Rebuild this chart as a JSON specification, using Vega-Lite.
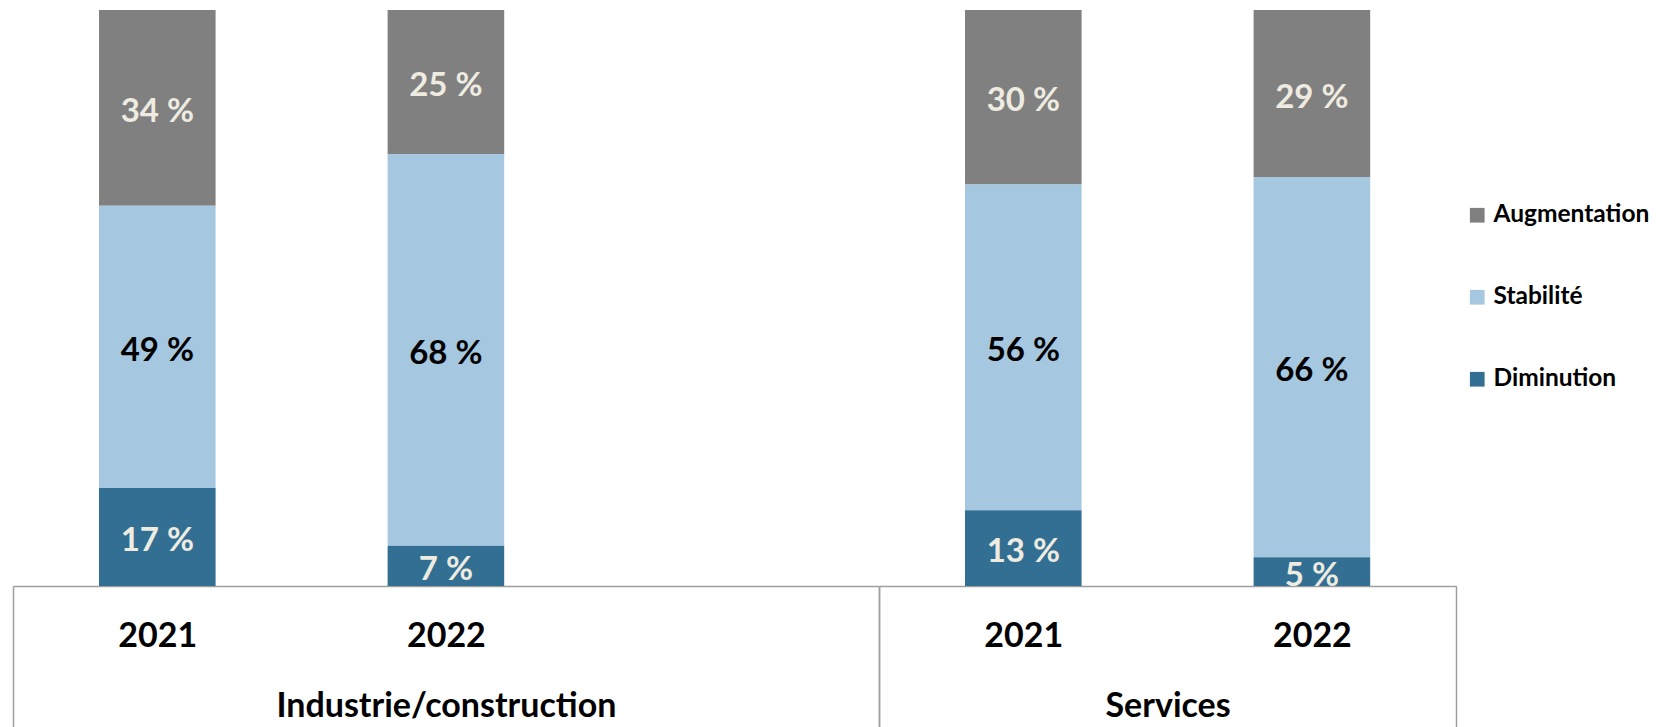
{
  "$schema": "https://vega.github.io/schema/vega-lite/v6.json",
  "padding": {"left": 12, "top": 10, "right": 0, "bottom": 0},
  "background": "white",
  "config": {
    "font": "Lato",
    "view": {"stroke": null},
    "axisX": {
      "labelAngle": 0,
      "labelFont": "Lato",
      "labelFontSize": 34,
      "labelFontWeight": "bold",
      "labelColor": "#000000",
      "labelBaseline": "alphabetic",
      "labelPadding": -81,
      "tickBand": "extent",
      "tickSize": 141,
      "tickColor": "#9E9E9E",
      "tickWidth": 1.5,
      "domainColor": "#9E9E9E",
      "domainWidth": 1.5,
      "grid": false,
      "titleFont": "Lato",
      "titleFontSize": 34,
      "titleFontWeight": "bold",
      "titleColor": "#000000",
      "titleBaseline": "alphabetic",
      "titleY": 130
    },
    "legend": {
      "labelFont": "Lato",
      "labelFontSize": 24.5,
      "labelFontWeight": "bold",
      "labelColor": "#000000",
      "symbolType": "square",
      "symbolSize": 216,
      "symbolStrokeWidth": 0,
      "labelOffset": 4,
      "rowPadding": 57
    }
  },
  "data": {
    "values": [
      {"grp": "Industrie/construction", "year": "2021", "cat": "Augmentation", "value": 34},
      {"grp": "Industrie/construction", "year": "2021", "cat": "Stabilité", "value": 49},
      {"grp": "Industrie/construction", "year": "2021", "cat": "Diminution", "value": 17},
      {"grp": "Industrie/construction", "year": "2022", "cat": "Augmentation", "value": 25},
      {"grp": "Industrie/construction", "year": "2022", "cat": "Stabilité", "value": 68},
      {"grp": "Industrie/construction", "year": "2022", "cat": "Diminution", "value": 7},
      {"grp": "Services", "year": "2021", "cat": "Augmentation", "value": 30},
      {"grp": "Services", "year": "2021", "cat": "Stabilité", "value": 56},
      {"grp": "Services", "year": "2021", "cat": "Diminution", "value": 13},
      {"grp": "Services", "year": "2022", "cat": "Augmentation", "value": 29},
      {"grp": "Services", "year": "2022", "cat": "Stabilité", "value": 66},
      {"grp": "Services", "year": "2022", "cat": "Diminution", "value": 5}
    ]
  },
  "transform": [
    {"calculate": "indexof(['Diminution','Stabilité','Augmentation'], datum.cat)", "as": "ord"},
    {"stack": "value", "groupby": ["grp", "year"], "sort": [{"field": "ord", "order": "ascending"}], "offset": "normalize", "as": ["y0", "y1"]},
    {"calculate": "(datum.y0 + datum.y1) / 2", "as": "mid"},
    {"calculate": "datum.value + ' %'", "as": "label"}
  ],
  "spacing": 0,
  "bounds": "flush",
  "hconcat": [
    {
      "width": 865.8,
      "height": 576,
      "transform": [{"filter": "datum.grp === 'Industrie/construction'"}],
      "encoding": {
        "x": {
          "field": "year", "type": "nominal",
          "scale": {"domain": ["2021", "2022", "vide"], "paddingInner": 0, "paddingOuter": 0},
          "axis": {
            "title": "Industrie/construction",
            "labelExpr": "datum.value === 'vide' ? '' : datum.value",
            "tickOpacity": {"condition": {"test": "datum.index === -1 || datum.index === 1", "value": 1}, "value": 0}
          }
        }
      },
      "layer": [
        {
          "mark": {"type": "bar", "width": {"band": 0.404}},
          "encoding": {
            "y": {"field": "y0", "type": "quantitative", "scale": {"domain": [0, 1]}, "axis": null},
            "y2": {"field": "y1"},
            "color": {
              "field": "cat", "type": "nominal",
              "scale": {"domain": ["Augmentation", "Stabilité", "Diminution"], "range": ["#808080", "#A5C8E0", "#336F93"]},
              "legend": {"title": null, "orient": "none", "legendX": 1452, "legendY": 193}
            }
          }
        },
        {
          "mark": {"type": "text", "font": "Lato", "fontSize": 33, "fontWeight": "bold", "baseline": "middle", "align": "center", "dy": 4},
          "encoding": {
            "y": {"field": "mid", "type": "quantitative", "scale": {"domain": [0, 1]}, "axis": null},
            "text": {"field": "label"},
            "color": {"condition": {"test": "datum.cat === 'Stabilité'", "value": "#000000"}, "value": "#EEECE1"}
          }
        }
      ]
    },
    {
      "width": 577.2,
      "height": 576,
      "transform": [{"filter": "datum.grp === 'Services'"}],
      "encoding": {
        "x": {
          "field": "year", "type": "nominal",
          "scale": {"domain": ["2021", "2022"], "paddingInner": 0, "paddingOuter": 0},
          "axis": {
            "title": "Services",
            "tickOpacity": {"condition": {"test": "datum.index === -1 || datum.index === 1", "value": 1}, "value": 0}
          }
        }
      },
      "layer": [
        {
          "mark": {"type": "bar", "width": {"band": 0.404}},
          "encoding": {
            "y": {"field": "y0", "type": "quantitative", "scale": {"domain": [0, 1]}, "axis": null},
            "y2": {"field": "y1"},
            "color": {
              "field": "cat", "type": "nominal",
              "scale": {"domain": ["Augmentation", "Stabilité", "Diminution"], "range": ["#808080", "#A5C8E0", "#336F93"]},
              "legend": {"title": null, "orient": "none", "legendX": 1452, "legendY": 193}
            }
          }
        },
        {
          "mark": {"type": "text", "font": "Lato", "fontSize": 33, "fontWeight": "bold", "baseline": "middle", "align": "center", "dy": 4},
          "encoding": {
            "y": {"field": "mid", "type": "quantitative", "scale": {"domain": [0, 1]}, "axis": null},
            "text": {"field": "label"},
            "color": {"condition": {"test": "datum.cat === 'Stabilité'", "value": "#000000"}, "value": "#EEECE1"}
          }
        }
      ]
    }
  ]
}
